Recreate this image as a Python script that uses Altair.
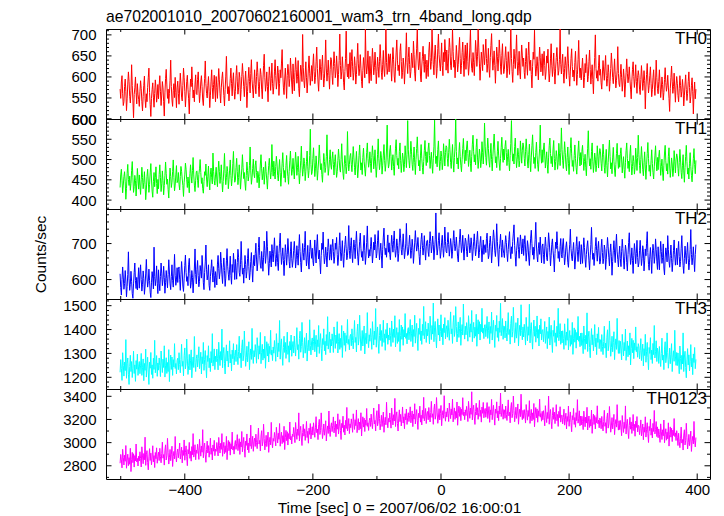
import altair as alt
import pandas as pd

FONT = "Liberation Sans"
TITLE = "ae702001010_20070602160001_wam3_trn_4band_long.qdp"
XTITLE = "Time [sec] 0 = 2007/06/02 16:00:01"
YTITLE = "Counts/sec"

# light-curve bins: start time and bin width (sec), 30 bins per row below
T_START, T_BIN = -501, 1

TH0 = [
571, 549, 588, 603, 560, 532, 541, 577, 595, 566, 520, 548, 583, 612, 590, 554, 538, 567, 629, 580, 545, 503, 558, 574, 600, 563, 536, 584, 559, 547,
530, 566, 591, 572, 541, 519, 553, 580, 602, 548, 527, 560, 541, 575, 598, 621, 563, 534, 506, 549, 570, 586, 552, 528, 561, 593, 574, 540, 555, 582,
548, 579, 603, 566, 532, 557, 589, 574, 541, 507, 562, 596, 618, 581, 549, 571, 537, 560, 592, 640, 577, 545, 530, 568, 584, 551, 599, 563, 527, 574,
590, 561, 535, 576, 609, 583, 552, 543, 580, 621, 598, 566, 529, 557, 589, 604, 571, 548, 512, 563, 595, 577, 624, 586, 550, 569, 541, 583, 605, 560,
558, 594, 612, 571, 539, 560, 588, 603, 577, 545, 532, 569, 596, 638, 584, 561, 550, 579, 601, 566, 527, 555, 590, 617, 575, 548, 582, 604, 569, 541,
601, 575, 549, 586, 620, 593, 561, 538, 574, 597, 612, 583, 556, 531, 570, 602, 649, 588, 560, 577, 543, 569, 596, 621, 584, 555, 590, 610, 572, 547,
566, 603, 627, 590, 559, 574, 611, 598, 543, 570, 601, 632, 606, 577, 553, 590, 614, 580, 527, 565, 596, 623, 589, 562, 608, 641, 594, 571, 550, 585,
617, 582, 560, 601, 636, 610, 578, 553, 589, 620, 606, 571, 548, 593, 627, 654, 598, 566, 583, 612, 577, 541, 590, 624, 603, 568, 596, 633, 585, 559,
578, 612, 641, 603, 571, 590, 626, 611, 556, 584, 617, 598, 633, 665, 607, 574, 558, 595, 621, 588, 549, 603, 630, 612, 577, 596, 645, 616, 583, 560,
631, 594, 567, 610, 646, 618, 585, 601, 639, 572, 553, 600, 628, 614, 589, 701, 623, 591, 574, 607, 636, 598, 562, 588, 621, 650, 609, 580, 603, 627,
590, 628, 655, 613, 584, 599, 636, 671, 620, 588, 566, 607, 642, 617, 593, 625, 652, 608, 576, 597, 633, 688, 619, 590, 611, 640, 603, 571, 618, 646,
641, 603, 582, 625, 660, 632, 598, 614, 650, 621, 577, 606, 639, 702, 627, 595, 612, 648, 620, 586, 569, 613, 644, 709, 622, 600, 631, 596, 626, 658,
600, 637, 665, 624, 592, 611, 648, 627, 583, 606, 642, 680, 631, 603, 619, 653, 621, 589, 574, 615, 646, 628, 598, 714, 633, 607, 626, 662, 614, 585,
649, 612, 591, 631, 668, 640, 605, 622, 659, 628, 584, 613, 647, 625, 599, 636, 677, 643, 610, 594, 630, 663, 619, 601, 640, 714, 634, 606, 621, 655,
612, 648, 655, 621, 590, 633, 670, 641, 602, 587, 624, 659, 688, 640, 615, 628, 603, 661, 679, 637, 596, 611, 645, 626, 583, 619, 652, 705, 634, 608,
646, 671, 629, 598, 613, 657, 640, 622, 685, 653, 609, 590, 638, 667, 714, 645, 617, 631, 659, 602, 588, 626, 648, 673, 637, 611, 654, 629, 596, 640,
622, 601, 659, 683, 646, 618, 637, 714, 664, 629, 605, 650, 676, 641, 597, 620, 668, 702, 653, 631, 614, 645, 681, 627, 603, 658, 636, 689, 660, 616,
664, 633, 609, 655, 692, 670, 628, 617, 649, 714, 661, 623, 640, 598, 636, 675, 650, 612, 630, 666, 694, 644, 607, 627, 658, 683, 639, 601, 647, 676,
618, 652, 681, 637, 604, 626, 669, 712, 647, 620, 611, 658, 635, 603, 642, 687, 661, 625, 648, 714, 671, 633, 592, 624, 659, 640, 615, 677, 652, 629,
657, 690, 644, 611, 632, 668, 621, 599, 646, 675, 703, 650, 616, 638, 662, 627, 585, 630, 671, 649, 614, 643, 688, 656, 624, 606, 651, 679, 633, 608,
618, 647, 672, 639, 598, 621, 660, 633, 606, 652, 714, 644, 613, 587, 629, 666, 641, 620, 655, 700, 637, 604, 628, 661, 612, 595, 643, 676, 650, 625,
645, 611, 596, 637, 668, 629, 604, 651, 683, 638, 615, 640, 606, 574, 625, 659, 642, 711, 631, 602, 619, 648, 624, 593, 636, 671, 647, 612, 628, 655,
603, 638, 661, 627, 594, 612, 650, 633, 666, 619, 588, 609, 643, 679, 628, 601, 625, 657, 612, 583, 621, 646, 670, 636, 604, 615, 642, 714, 630, 607,
632, 654, 611, 585, 620, 648, 627, 596, 638, 672, 631, 603, 578, 614, 644, 667, 625, 600, 616, 590, 634, 661, 618, 580, 606, 641, 687, 626, 598, 621,
593, 619, 645, 612, 574, 599, 632, 610, 653, 625, 588, 601, 637, 664, 618, 583, 607, 629, 594, 560, 612, 646, 700, 620, 597, 615, 590, 628, 652, 604,
618, 586, 571, 607, 639, 614, 592, 624, 651, 603, 578, 596, 629, 610, 566, 589, 620, 657, 631, 599, 584, 612, 643, 605, 574, 592, 615, 672, 608, 583,
577, 605, 630, 598, 566, 588, 619, 597, 552, 581, 611, 643, 609, 586, 600, 624, 595, 571, 548, 590, 618, 636, 601, 575, 596, 629, 589, 561, 598, 615,
603, 571, 558, 594, 627, 600, 568, 585, 615, 592, 524, 576, 606, 632, 590, 562, 579, 603, 624, 585, 553, 570, 598, 617, 581, 556, 588, 640, 599, 572,
560, 589, 617, 583, 551, 571, 600, 582, 545, 563, 594, 622, 587, 566, 579, 604, 576, 549, 518, 572, 598, 626, 590, 561, 577, 609, 571, 540, 579, 601,
585, 556, 541, 572, 603, 580, 552, 566, 594, 574, 531, 555, 583, 605, 570, 544, 561, 589, 612, 575, 538, 553, 579, 598, 566, 512, 560, 588, 548, 571,
]

TH1 = [
431, 462, 476, 449, 418, 437, 458, 470, 445, 402, 429, 466, 488, 451, 436, 459, 424, 441, 473, 495, 455, 419, 433, 461, 448, 410, 440, 478, 452, 427,
462, 437, 414, 450, 481, 456, 428, 443, 470, 439, 401, 425, 458, 476, 447, 419, 438, 467, 490, 452, 422, 407, 446, 468, 433, 455, 482, 441, 416, 451,
428, 463, 487, 455, 421, 440, 472, 448, 413, 436, 460, 494, 466, 439, 452, 426, 405, 447, 479, 458, 431, 444, 470, 499, 456, 423, 437, 462, 485, 443,
447, 468, 439, 425, 458, 483, 471, 452, 436, 409, 444, 462, 491, 476, 450, 431, 457, 440, 418, 465, 487, 459, 442, 473, 505, 462, 437, 421, 449, 470,
472, 449, 431, 463, 477, 500, 468, 441, 455, 428, 417, 446, 470, 461, 489, 452, 433, 459, 484, 447, 425, 464, 479, 455, 440, 516, 471, 448, 437, 462,
481, 452, 433, 469, 496, 471, 441, 459, 487, 448, 420, 446, 476, 515, 465, 438, 455, 483, 470, 428, 450, 474, 499, 461, 435, 453, 490, 520, 467, 444,
449, 480, 503, 470, 438, 456, 487, 462, 427, 452, 477, 512, 480, 453, 468, 442, 424, 461, 494, 473, 447, 459, 486, 531, 472, 439, 455, 478, 501, 464,
455, 486, 497, 468, 443, 471, 462, 430, 458, 489, 512, 477, 450, 466, 481, 439, 462, 495, 470, 449, 427, 460, 485, 503, 474, 452, 468, 537, 481, 459,
496, 470, 452, 483, 508, 489, 461, 447, 476, 500, 468, 434, 462, 491, 517, 480, 455, 473, 444, 486, 510, 477, 458, 439, 470, 497, 521, 484, 461, 475,
503, 474, 452, 489, 518, 494, 461, 480, 508, 468, 440, 466, 497, 533, 486, 459, 476, 504, 490, 448, 470, 495, 521, 482, 455, 473, 510, 575, 488, 463,
470, 503, 529, 492, 458, 477, 509, 484, 449, 473, 499, 536, 502, 475, 490, 463, 444, 482, 515, 495, 468, 480, 507, 561, 494, 461, 477, 500, 524, 486,
476, 503, 519, 488, 462, 495, 512, 481, 456, 470, 498, 526, 503, 477, 469, 500, 539, 494, 466, 451, 487, 510, 490, 465, 483, 569, 499, 472, 488, 509,
515, 488, 470, 501, 532, 506, 480, 462, 494, 520, 487, 455, 479, 510, 536, 499, 474, 492, 463, 505, 528, 496, 477, 459, 489, 517, 541, 503, 481, 494,
519, 490, 468, 505, 534, 510, 477, 496, 524, 484, 456, 482, 513, 551, 502, 475, 492, 520, 506, 464, 486, 511, 537, 498, 471, 489, 526, 585, 504, 479,
488, 521, 535, 507, 474, 496, 512, 483, 461, 499, 528, 549, 510, 486, 503, 477, 520, 541, 497, 468, 491, 516, 502, 470, 487, 534, 509, 480, 513, 596,
524, 497, 479, 512, 545, 519, 488, 473, 505, 531, 492, 463, 500, 527, 556, 515, 484, 498, 472, 511, 537, 503, 481, 464, 495, 522, 547, 508, 485, 519,
493, 526, 541, 510, 478, 501, 518, 487, 466, 503, 533, 597, 514, 490, 508, 482, 525, 546, 501, 473, 495, 521, 507, 475, 492, 539, 513, 484, 517, 534,
530, 502, 483, 518, 550, 524, 493, 478, 511, 537, 497, 469, 505, 533, 600, 520, 489, 504, 477, 516, 542, 508, 486, 470, 500, 527, 552, 513, 490, 523,
497, 531, 546, 515, 483, 505, 523, 491, 470, 508, 538, 560, 519, 494, 512, 487, 530, 551, 506, 478, 499, 526, 511, 480, 496, 544, 518, 489, 521, 590,
533, 505, 486, 521, 553, 527, 496, 481, 514, 540, 500, 472, 508, 536, 563, 523, 492, 507, 480, 519, 545, 511, 489, 473, 503, 530, 555, 516, 493, 526,
499, 532, 547, 517, 485, 507, 525, 493, 472, 510, 540, 596, 521, 496, 514, 489, 532, 553, 508, 480, 501, 528, 513, 482, 498, 546, 520, 491, 523, 541,
531, 503, 484, 519, 551, 525, 494, 479, 512, 538, 498, 470, 506, 534, 561, 521, 490, 505, 478, 517, 543, 509, 487, 471, 501, 528, 585, 514, 491, 524,
493, 526, 541, 511, 479, 501, 519, 487, 466, 504, 534, 553, 515, 490, 508, 482, 526, 547, 502, 474, 495, 522, 507, 476, 492, 540, 514, 485, 517, 578,
525, 497, 478, 512, 544, 518, 487, 472, 505, 531, 491, 463, 499, 527, 554, 514, 483, 498, 471, 510, 536, 502, 480, 464, 494, 521, 546, 507, 484, 517,
487, 520, 535, 505, 473, 495, 513, 481, 460, 498, 528, 571, 509, 484, 502, 476, 520, 541, 496, 468, 489, 516, 501, 470, 486, 534, 508, 479, 511, 527,
519, 491, 472, 506, 538, 512, 481, 466, 499, 525, 485, 457, 493, 521, 548, 508, 477, 492, 465, 504, 530, 496, 474, 458, 488, 515, 540, 501, 478, 511,
481, 514, 529, 499, 467, 489, 507, 475, 454, 492, 522, 541, 503, 478, 496, 470, 514, 535, 490, 462, 483, 510, 495, 464, 480, 528, 502, 473, 505, 560,
513, 485, 466, 500, 532, 506, 475, 460, 493, 519, 479, 451, 487, 515, 542, 502, 471, 486, 459, 498, 524, 490, 468, 452, 482, 509, 534, 495, 472, 505,
475, 508, 523, 493, 461, 483, 501, 469, 448, 486, 516, 535, 497, 472, 490, 464, 508, 529, 484, 456, 477, 504, 489, 458, 474, 522, 496, 467, 499, 514,
506, 478, 459, 493, 525, 499, 468, 453, 486, 512, 472, 444, 480, 508, 535, 495, 464, 479, 452, 491, 517, 483, 461, 445, 475, 502, 527, 488, 465, 498,
]

TH2 = [
616, 578, 557, 600, 635, 607, 573, 589, 625, 596, 552, 581, 614, 677, 602, 570, 587, 623, 595, 561, 548, 588, 619, 646, 597, 575, 606, 571, 601, 633,
576, 613, 641, 600, 568, 587, 624, 603, 559, 582, 618, 656, 607, 579, 595, 629, 597, 565, 550, 591, 622, 604, 574, 690, 609, 583, 602, 638, 590, 561,
627, 590, 569, 609, 646, 618, 583, 600, 637, 606, 562, 591, 625, 603, 577, 614, 655, 621, 588, 572, 608, 641, 597, 579, 618, 670, 612, 584, 599, 633,
592, 628, 635, 601, 570, 613, 650, 621, 582, 567, 604, 639, 668, 620, 595, 608, 583, 641, 659, 617, 576, 591, 625, 606, 563, 599, 632, 685, 614, 588,
628, 653, 611, 580, 595, 639, 622, 604, 667, 635, 591, 572, 620, 649, 696, 627, 599, 613, 641, 584, 570, 608, 630, 655, 619, 593, 636, 611, 578, 622,
606, 585, 643, 667, 630, 602, 621, 676, 648, 613, 589, 634, 660, 625, 581, 604, 652, 686, 637, 615, 598, 629, 665, 611, 587, 642, 620, 673, 644, 600,
656, 625, 601, 647, 684, 662, 620, 609, 641, 706, 653, 615, 632, 590, 628, 667, 642, 604, 622, 658, 686, 636, 599, 619, 650, 675, 631, 593, 639, 668,
638, 672, 701, 657, 624, 646, 689, 718, 667, 640, 631, 678, 655, 623, 662, 707, 681, 645, 668, 734, 691, 653, 612, 644, 679, 660, 635, 697, 672, 649,
683, 716, 670, 637, 658, 694, 647, 625, 672, 701, 729, 676, 642, 664, 688, 653, 611, 656, 697, 675, 640, 669, 714, 682, 650, 632, 677, 705, 659, 634,
652, 681, 706, 673, 632, 655, 694, 667, 640, 686, 725, 678, 647, 621, 663, 700, 675, 654, 689, 734, 671, 638, 662, 695, 646, 629, 677, 710, 684, 659,
687, 653, 638, 679, 710, 671, 646, 693, 725, 680, 657, 682, 648, 616, 667, 701, 684, 732, 673, 644, 661, 690, 666, 635, 678, 713, 689, 654, 670, 697,
654, 689, 712, 678, 645, 663, 701, 684, 717, 670, 639, 660, 694, 730, 679, 652, 676, 708, 663, 634, 672, 697, 721, 687, 655, 666, 693, 750, 681, 658,
694, 716, 673, 647, 682, 710, 689, 658, 700, 734, 693, 665, 640, 676, 706, 729, 687, 662, 678, 652, 696, 723, 680, 642, 668, 703, 749, 688, 660, 683,
665, 691, 717, 684, 646, 671, 704, 682, 725, 697, 660, 673, 709, 736, 690, 655, 679, 701, 666, 632, 684, 718, 743, 692, 669, 687, 662, 700, 724, 676,
702, 670, 655, 691, 723, 698, 676, 708, 735, 687, 662, 680, 713, 694, 650, 673, 704, 741, 715, 683, 668, 696, 727, 689, 658, 676, 699, 756, 692, 667,
670, 698, 723, 691, 659, 681, 712, 690, 645, 674, 704, 736, 702, 679, 693, 717, 688, 664, 641, 683, 711, 729, 694, 668, 689, 722, 682, 654, 691, 708,
709, 677, 664, 700, 733, 706, 674, 691, 721, 698, 655, 682, 712, 785, 696, 668, 685, 709, 730, 691, 659, 676, 704, 723, 687, 662, 694, 746, 705, 678,
674, 703, 731, 697, 665, 685, 714, 696, 659, 677, 708, 736, 701, 680, 693, 718, 690, 663, 649, 686, 712, 740, 704, 675, 691, 723, 685, 654, 693, 715,
707, 678, 663, 694, 725, 702, 674, 688, 716, 696, 653, 677, 705, 727, 692, 666, 683, 711, 734, 697, 660, 675, 701, 720, 688, 649, 682, 710, 670, 693,
697, 675, 714, 729, 686, 658, 667, 703, 721, 692, 646, 674, 709, 738, 716, 680, 664, 693, 755, 706, 671, 637, 684, 700, 726, 689, 662, 710, 685, 673,
661, 697, 722, 703, 672, 650, 684, 711, 733, 679, 658, 691, 672, 706, 729, 752, 694, 665, 637, 680, 701, 717, 683, 659, 692, 724, 705, 671, 686, 713,
667, 698, 722, 685, 651, 676, 708, 693, 660, 639, 681, 715, 737, 700, 668, 690, 656, 679, 711, 759, 696, 664, 649, 687, 703, 670, 718, 682, 646, 693,
699, 670, 644, 685, 718, 692, 661, 652, 689, 730, 707, 675, 638, 666, 698, 713, 680, 657, 621, 672, 704, 686, 733, 695, 659, 678, 650, 692, 714, 669,
660, 696, 714, 673, 641, 662, 690, 705, 679, 647, 634, 671, 698, 740, 686, 663, 652, 681, 703, 668, 629, 657, 692, 719, 677, 650, 684, 706, 671, 643,
697, 671, 645, 682, 716, 689, 657, 634, 670, 693, 708, 679, 652, 627, 666, 698, 745, 684, 656, 673, 639, 665, 692, 717, 680, 651, 686, 706, 668, 643,
651, 688, 712, 675, 644, 659, 696, 683, 628, 655, 686, 717, 691, 662, 638, 675, 699, 665, 612, 650, 681, 708, 674, 647, 693, 726, 679, 656, 635, 670,
693, 658, 636, 677, 712, 686, 654, 629, 665, 696, 682, 647, 624, 669, 703, 730, 674, 642, 659, 688, 653, 617, 666, 700, 679, 644, 672, 709, 661, 635,
646, 680, 709, 671, 639, 658, 694, 679, 624, 652, 685, 666, 701, 733, 675, 642, 626, 663, 689, 656, 617, 671, 698, 680, 645, 664, 713, 684, 651, 628,
691, 654, 627, 670, 706, 678, 645, 661, 699, 632, 613, 660, 688, 674, 649, 722, 683, 651, 634, 667, 696, 658, 622, 648, 681, 710, 669, 640, 663, 687,
641, 679, 706, 664, 635, 650, 687, 722, 671, 639, 617, 658, 693, 668, 644, 676, 703, 659, 627, 648, 684, 739, 670, 641, 662, 691, 654, 622, 669, 697,
]

TH3 = [
1221, 1274, 1236, 1187, 1303, 1250, 1205, 1264, 1228, 1358, 1196, 1257, 1281, 1213, 1170, 1245, 1292, 1224, 1266, 1199, 1238, 1309, 1216, 1252, 1183, 1270, 1234, 1297, 1208, 1247,
1266, 1215, 1251, 1300, 1208, 1240, 1277, 1186, 1258, 1229, 1318, 1201, 1247, 1284, 1222, 1170, 1263, 1238, 1304, 1212, 1252, 1196, 1280, 1233, 1355, 1219, 1245, 1291, 1204, 1260,
1230, 1281, 1249, 1203, 1310, 1264, 1220, 1276, 1241, 1332, 1201, 1248, 1282, 1216, 1262, 1224, 1316, 1182, 1250, 1293, 1233, 1285, 1208, 1274, 1243, 1341, 1237, 1258, 1214, 1271,
1280, 1232, 1303, 1254, 1219, 1274, 1338, 1246, 1267, 1206, 1292, 1323, 1235, 1259, 1360, 1277, 1212, 1248, 1296, 1231, 1269, 1315, 1198, 1256, 1285, 1241, 1371, 1263, 1224, 1278,
1294, 1243, 1279, 1328, 1236, 1268, 1305, 1214, 1286, 1257, 1346, 1229, 1275, 1312, 1250, 1198, 1291, 1266, 1332, 1240, 1280, 1224, 1308, 1261, 1383, 1247, 1273, 1319, 1232, 1288,
1265, 1318, 1280, 1231, 1347, 1294, 1249, 1308, 1272, 1402, 1240, 1301, 1325, 1257, 1214, 1289, 1336, 1268, 1310, 1243, 1282, 1353, 1260, 1296, 1227, 1314, 1278, 1341, 1252, 1291,
1314, 1266, 1337, 1288, 1253, 1308, 1372, 1280, 1301, 1240, 1326, 1357, 1269, 1293, 1394, 1311, 1246, 1282, 1330, 1265, 1303, 1349, 1232, 1290, 1319, 1275, 1405, 1297, 1258, 1312,
1286, 1337, 1305, 1259, 1366, 1320, 1276, 1332, 1297, 1388, 1257, 1304, 1338, 1272, 1318, 1280, 1372, 1238, 1306, 1349, 1289, 1341, 1264, 1330, 1299, 1397, 1293, 1314, 1270, 1327,
1301, 1354, 1316, 1267, 1383, 1330, 1285, 1344, 1308, 1438, 1276, 1337, 1361, 1293, 1250, 1325, 1372, 1304, 1346, 1279, 1318, 1389, 1296, 1332, 1263, 1350, 1314, 1377, 1288, 1327,
1350, 1302, 1373, 1324, 1289, 1344, 1408, 1316, 1337, 1276, 1362, 1393, 1305, 1329, 1430, 1347, 1282, 1318, 1366, 1301, 1339, 1385, 1268, 1326, 1355, 1311, 1441, 1333, 1294, 1348,
1365, 1314, 1350, 1399, 1307, 1339, 1376, 1285, 1357, 1328, 1417, 1300, 1346, 1383, 1321, 1269, 1362, 1337, 1403, 1311, 1351, 1295, 1379, 1332, 1454, 1318, 1344, 1390, 1303, 1359,
1331, 1382, 1350, 1304, 1411, 1365, 1321, 1377, 1342, 1433, 1302, 1349, 1383, 1317, 1363, 1325, 1417, 1283, 1351, 1394, 1334, 1386, 1309, 1375, 1344, 1442, 1338, 1359, 1315, 1372,
1380, 1332, 1403, 1354, 1319, 1374, 1438, 1346, 1367, 1306, 1392, 1423, 1335, 1359, 1460, 1377, 1312, 1348, 1396, 1331, 1369, 1415, 1298, 1356, 1385, 1341, 1471, 1363, 1324, 1378,
1351, 1404, 1366, 1317, 1433, 1380, 1335, 1394, 1358, 1488, 1326, 1387, 1411, 1343, 1300, 1375, 1422, 1354, 1396, 1329, 1368, 1439, 1346, 1382, 1313, 1400, 1364, 1427, 1338, 1377,
1356, 1407, 1375, 1329, 1436, 1390, 1346, 1402, 1367, 1458, 1327, 1374, 1408, 1342, 1388, 1350, 1442, 1308, 1376, 1419, 1359, 1411, 1334, 1400, 1369, 1467, 1363, 1384, 1340, 1397,
1408, 1357, 1393, 1442, 1350, 1382, 1419, 1328, 1400, 1371, 1460, 1343, 1389, 1426, 1364, 1312, 1405, 1380, 1446, 1354, 1394, 1338, 1422, 1375, 1497, 1361, 1387, 1433, 1346, 1402,
1374, 1427, 1389, 1340, 1456, 1403, 1358, 1417, 1381, 1511, 1349, 1410, 1434, 1366, 1323, 1398, 1445, 1377, 1419, 1352, 1391, 1462, 1369, 1405, 1336, 1423, 1387, 1450, 1361, 1400,
1416, 1368, 1439, 1390, 1355, 1410, 1474, 1382, 1403, 1342, 1428, 1459, 1371, 1395, 1496, 1413, 1348, 1384, 1432, 1367, 1405, 1451, 1334, 1392, 1421, 1377, 1507, 1399, 1360, 1414,
1378, 1429, 1397, 1351, 1458, 1412, 1368, 1424, 1389, 1480, 1349, 1396, 1430, 1364, 1410, 1372, 1464, 1330, 1398, 1441, 1381, 1433, 1356, 1422, 1391, 1489, 1385, 1406, 1362, 1419,
1421, 1370, 1406, 1455, 1363, 1395, 1432, 1341, 1413, 1384, 1473, 1356, 1402, 1439, 1377, 1325, 1418, 1393, 1459, 1367, 1407, 1351, 1435, 1388, 1510, 1374, 1400, 1446, 1359, 1415,
1413, 1365, 1436, 1387, 1352, 1407, 1471, 1379, 1400, 1339, 1425, 1456, 1368, 1392, 1493, 1410, 1345, 1381, 1429, 1364, 1402, 1448, 1331, 1389, 1418, 1374, 1504, 1396, 1357, 1411,
1369, 1422, 1384, 1335, 1451, 1398, 1353, 1412, 1376, 1506, 1344, 1405, 1429, 1361, 1318, 1393, 1440, 1372, 1414, 1347, 1386, 1457, 1364, 1400, 1331, 1418, 1382, 1445, 1356, 1395,
1400, 1349, 1385, 1434, 1342, 1374, 1411, 1320, 1392, 1363, 1452, 1335, 1381, 1418, 1356, 1304, 1397, 1372, 1438, 1346, 1386, 1330, 1414, 1367, 1489, 1353, 1379, 1425, 1338, 1394,
1344, 1395, 1363, 1317, 1424, 1378, 1334, 1390, 1355, 1446, 1315, 1362, 1396, 1330, 1376, 1338, 1430, 1296, 1364, 1407, 1347, 1399, 1322, 1388, 1357, 1455, 1351, 1372, 1328, 1385,
1333, 1386, 1348, 1299, 1415, 1362, 1317, 1376, 1340, 1470, 1308, 1369, 1393, 1325, 1282, 1357, 1404, 1336, 1378, 1311, 1350, 1421, 1328, 1364, 1295, 1382, 1346, 1409, 1320, 1359,
1356, 1308, 1379, 1330, 1295, 1350, 1414, 1322, 1343, 1282, 1368, 1399, 1311, 1335, 1436, 1353, 1288, 1324, 1372, 1307, 1345, 1391, 1274, 1332, 1361, 1317, 1447, 1339, 1300, 1354,
1300, 1351, 1319, 1273, 1380, 1334, 1290, 1346, 1311, 1402, 1271, 1318, 1352, 1286, 1332, 1294, 1386, 1252, 1320, 1363, 1303, 1355, 1278, 1344, 1313, 1411, 1307, 1328, 1284, 1341,
1328, 1277, 1313, 1362, 1270, 1302, 1339, 1248, 1320, 1291, 1380, 1263, 1309, 1346, 1284, 1232, 1325, 1300, 1366, 1274, 1314, 1258, 1342, 1295, 1417, 1281, 1307, 1353, 1266, 1322,
1306, 1258, 1329, 1280, 1245, 1300, 1364, 1272, 1293, 1232, 1318, 1349, 1261, 1285, 1386, 1303, 1238, 1274, 1322, 1257, 1295, 1341, 1224, 1282, 1311, 1267, 1397, 1289, 1250, 1304,
1249, 1302, 1264, 1215, 1331, 1278, 1233, 1292, 1256, 1386, 1224, 1285, 1309, 1241, 1198, 1273, 1320, 1252, 1294, 1227, 1266, 1337, 1244, 1280, 1211, 1298, 1262, 1325, 1236, 1275,
]

TH0123 = [
2822, 2898, 2851, 2782, 2942, 2873, 2807, 2891, 2839, 2975, 2779, 2849, 2900, 2801, 2870, 2813, 2951, 2750, 2852, 2916, 2827, 2904, 2789, 2888, 2842, 2988, 2833, 2864, 2798, 2883,
2842, 2921, 2864, 2790, 2964, 2885, 2818, 2906, 2852, 3047, 2804, 2895, 2931, 2830, 2765, 2877, 2948, 2846, 2909, 2809, 2867, 2973, 2834, 2888, 2785, 2915, 2861, 2955, 2822, 2880,
2917, 2845, 2951, 2878, 2826, 2908, 3004, 2866, 2897, 2806, 2935, 2981, 2850, 2886, 3037, 2912, 2815, 2869, 2941, 2844, 2900, 2969, 2794, 2881, 2924, 2859, 3053, 2891, 2833, 2914,
2945, 2869, 2922, 2996, 2858, 2906, 2961, 2825, 2933, 2890, 3023, 2848, 2916, 2972, 2879, 2801, 2940, 2903, 3002, 2864, 2924, 2840, 2966, 2896, 3078, 2875, 2913, 2982, 2852, 2936,
2907, 2986, 2929, 2855, 3029, 2950, 2883, 2971, 2917, 3112, 2869, 2960, 2996, 2895, 2830, 2942, 3013, 2911, 2974, 2874, 2932, 3038, 2899, 2953, 2850, 2980, 2926, 3020, 2887, 2945,
2925, 3001, 2954, 2885, 3045, 2976, 2910, 2994, 2942, 3078, 2882, 2952, 3003, 2904, 2973, 2916, 3054, 2853, 2955, 3019, 2930, 3007, 2892, 2991, 2945, 3091, 2936, 2967, 2901, 2986,
3018, 2942, 2995, 3069, 2931, 2979, 3034, 2898, 3006, 2963, 3096, 2921, 2989, 3045, 2952, 2874, 3013, 2976, 3075, 2937, 2997, 2913, 3039, 2969, 3151, 2948, 2986, 3055, 2925, 3009,
3039, 2967, 3073, 3000, 2948, 3030, 3126, 2988, 3019, 2928, 3057, 3103, 2972, 3008, 3159, 3034, 2937, 2991, 3063, 2966, 3022, 3091, 2916, 3003, 3046, 2981, 3175, 3013, 2955, 3036,
3012, 3088, 3041, 2972, 3132, 3063, 2997, 3081, 3029, 3165, 2969, 3039, 3090, 2991, 3060, 3003, 3141, 2940, 3042, 3106, 3017, 3094, 2979, 3078, 3032, 3178, 3023, 3054, 2988, 3073,
3052, 3131, 3074, 3000, 3174, 3095, 3028, 3116, 3062, 3257, 3014, 3105, 3141, 3040, 2975, 3087, 3158, 3056, 3119, 3019, 3077, 3183, 3044, 3098, 2995, 3125, 3071, 3165, 3032, 3090,
3137, 3065, 3171, 3098, 3046, 3128, 3224, 3086, 3117, 3026, 3155, 3201, 3070, 3106, 3257, 3132, 3035, 3089, 3161, 3064, 3120, 3189, 3014, 3101, 3144, 3079, 3273, 3111, 3053, 3134,
3171, 3095, 3148, 3222, 3084, 3132, 3187, 3051, 3159, 3116, 3249, 3074, 3142, 3198, 3105, 3027, 3166, 3129, 3228, 3090, 3150, 3066, 3192, 3122, 3304, 3101, 3139, 3208, 3078, 3162,
3129, 3205, 3158, 3089, 3249, 3180, 3114, 3198, 3146, 3282, 3086, 3156, 3207, 3108, 3177, 3120, 3258, 3057, 3159, 3223, 3134, 3211, 3096, 3195, 3149, 3295, 3140, 3171, 3105, 3190,
3212, 3140, 3246, 3173, 3121, 3203, 3299, 3161, 3192, 3101, 3230, 3276, 3145, 3181, 3332, 3207, 3110, 3164, 3236, 3139, 3195, 3264, 3089, 3176, 3219, 3154, 3348, 3186, 3128, 3209,
3177, 3256, 3199, 3125, 3299, 3220, 3153, 3241, 3187, 3382, 3139, 3230, 3266, 3165, 3100, 3212, 3283, 3181, 3244, 3144, 3202, 3308, 3169, 3223, 3120, 3250, 3196, 3290, 3157, 3215,
3258, 3182, 3235, 3309, 3171, 3219, 3274, 3138, 3246, 3203, 3336, 3161, 3229, 3285, 3192, 3114, 3253, 3216, 3315, 3177, 3237, 3153, 3279, 3209, 3391, 3188, 3226, 3295, 3165, 3249,
3269, 3197, 3303, 3230, 3178, 3260, 3356, 3218, 3249, 3158, 3287, 3333, 3202, 3238, 3389, 3264, 3167, 3221, 3293, 3196, 3252, 3321, 3146, 3233, 3276, 3211, 3405, 3243, 3185, 3266,
3222, 3298, 3251, 3182, 3342, 3273, 3207, 3291, 3239, 3375, 3179, 3249, 3300, 3201, 3270, 3213, 3351, 3150, 3252, 3316, 3227, 3304, 3189, 3288, 3242, 3388, 3233, 3264, 3198, 3283,
3234, 3313, 3256, 3182, 3356, 3277, 3210, 3298, 3244, 3439, 3196, 3287, 3323, 3222, 3157, 3269, 3340, 3238, 3301, 3201, 3259, 3365, 3226, 3280, 3177, 3307, 3253, 3347, 3214, 3272,
3295, 3219, 3272, 3346, 3208, 3256, 3311, 3175, 3283, 3240, 3373, 3198, 3266, 3322, 3229, 3151, 3290, 3253, 3352, 3214, 3274, 3190, 3316, 3246, 3428, 3225, 3263, 3332, 3202, 3286,
3282, 3210, 3316, 3243, 3191, 3273, 3369, 3231, 3262, 3171, 3300, 3346, 3215, 3251, 3402, 3277, 3180, 3234, 3306, 3209, 3265, 3334, 3159, 3246, 3289, 3224, 3418, 3256, 3198, 3279,
3209, 3285, 3238, 3169, 3329, 3260, 3194, 3278, 3226, 3362, 3166, 3236, 3287, 3188, 3257, 3200, 3338, 3137, 3239, 3303, 3214, 3291, 3176, 3275, 3229, 3375, 3220, 3251, 3185, 3270,
3197, 3276, 3219, 3145, 3319, 3240, 3173, 3261, 3207, 3402, 3159, 3250, 3286, 3185, 3120, 3232, 3303, 3201, 3264, 3164, 3222, 3328, 3189, 3243, 3140, 3270, 3216, 3310, 3177, 3235,
3238, 3162, 3215, 3289, 3151, 3199, 3254, 3118, 3226, 3183, 3316, 3141, 3209, 3265, 3172, 3094, 3233, 3196, 3295, 3157, 3217, 3133, 3259, 3189, 3371, 3168, 3206, 3275, 3145, 3229,
3152, 3228, 3181, 3112, 3272, 3203, 3137, 3221, 3169, 3305, 3109, 3179, 3230, 3131, 3200, 3143, 3281, 3080, 3182, 3246, 3157, 3234, 3119, 3218, 3172, 3318, 3163, 3194, 3128, 3213,
3192, 3120, 3226, 3153, 3101, 3183, 3279, 3141, 3172, 3081, 3210, 3256, 3125, 3161, 3312, 3187, 3090, 3144, 3216, 3119, 3175, 3244, 3069, 3156, 3199, 3134, 3328, 3166, 3108, 3189,
3112, 3191, 3134, 3060, 3234, 3155, 3088, 3176, 3122, 3317, 3074, 3165, 3201, 3100, 3035, 3147, 3218, 3116, 3179, 3079, 3137, 3243, 3104, 3158, 3055, 3185, 3131, 3225, 3092, 3150,
3145, 3069, 3122, 3196, 3058, 3106, 3161, 3025, 3133, 3090, 3223, 3048, 3116, 3172, 3079, 3001, 3140, 3103, 3202, 3064, 3124, 3040, 3166, 3096, 3278, 3075, 3113, 3182, 3052, 3136,
3042, 3118, 3071, 3002, 3162, 3093, 3027, 3111, 3059, 3195, 2999, 3069, 3120, 3021, 3090, 3033, 3171, 2970, 3072, 3136, 3047, 3124, 3009, 3108, 3062, 3208, 3053, 3084, 3018, 3103,
3047, 2975, 3081, 3008, 2956, 3038, 3134, 2996, 3027, 2936, 3065, 3111, 2980, 3016, 3167, 3042, 2945, 2999, 3071, 2974, 3030, 3099, 2924, 3011, 3054, 2989, 3183, 3021, 2963, 3044,
]

BANDS = ["TH0", "TH1", "TH2", "TH3", "TH0123"]
COLORS = ["#ff0000", "#00ff00", "#0000ff", "#00ffff", "#ff00ff"]
SERIES = [TH0, TH1, TH2, TH3, TH0123]
Y_DOMAINS = [[500, 714], [378, 600], [546, 796], [1151, 1528], [2686, 3463]]
Y_LABELS = [[500, 550, 600, 650, 700], [400, 450, 500, 550, 600], [600, 700],
            [1200, 1300, 1400, 1500], [2800, 3000, 3200, 3400]]
Y_MINOR_STEP = [10, 10, 20, 20, 100]
X_DOMAIN = [-523, 420]
X_LABELS = [-400, -200, 0, 200, 400]
X_MINOR = [-500, -300, -100, 100, 300]

W, H = 604, 90
MAJ, MIN = 5.5, 3


def rules_y(vals, ysc, yaxis, x1, x2):
    return alt.Chart(pd.DataFrame({"v": vals})).mark_rule(color="black", strokeWidth=1).encode(
        y=alt.Y("v:Q", scale=ysc, axis=yaxis), x=alt.value(x1), x2=alt.value(x2))


def rules_x(vals, xsc, xaxis, y1, y2):
    return alt.Chart(pd.DataFrame({"v": vals})).mark_rule(color="black", strokeWidth=1).encode(
        x=alt.X("v:Q", scale=xsc, axis=xaxis), y=alt.value(y1), y2=alt.value(y2))


panels = []
for i in range(5):
    lo, hi = Y_DOMAINS[i]
    step = Y_MINOR_STEP[i]
    minor = [v for v in range((lo // step + 1) * step, hi + 1, step) if v not in Y_LABELS[i]]
    ysc = alt.Scale(domain=Y_DOMAINS[i], nice=False, zero=False)
    xsc = alt.Scale(domain=X_DOMAIN, nice=False, zero=False)
    if i == 4:
        xaxis = alt.Axis(values=X_LABELS, format="d", title=XTITLE, ticks=False, tickSize=0,
                         domain=False, grid=False, labelPadding=3, titlePadding=3, titleX=293)
    else:
        xaxis = None
    if i == 2:
        yaxis = alt.Axis(values=Y_LABELS[i], format="d", title=YTITLE, ticks=False, tickSize=0,
                         domain=False, grid=False, labelPadding=10, titleX=-58)
    else:
        yaxis = alt.Axis(values=Y_LABELS[i], format="d", title=None, ticks=False, tickSize=0,
                         domain=False, grid=False, labelPadding=10)
    vals = SERIES[i]
    df = pd.DataFrame({"t": [T_START + T_BIN * k for k in range(len(vals))], "rate": vals})
    line = alt.Chart(df).mark_line(color=COLORS[i], strokeWidth=1, clip=True).encode(
        x=alt.X("t:Q", scale=xsc, axis=xaxis),
        y=alt.Y("rate:Q", scale=ysc, axis=yaxis),
    )
    label = alt.Chart(pd.DataFrame({"band": [BANDS[i]]})).mark_text(
        align="right", baseline="top", font=FONT, fontSize=17, color="black"
    ).encode(text="band:N", x=alt.value(W - 3), y=alt.value(2))
    layers = [
        line,
        rules_y(Y_LABELS[i], ysc, yaxis, 0, MAJ), rules_y(Y_LABELS[i], ysc, yaxis, W - MAJ, W),
        rules_y(minor, ysc, yaxis, 0, MIN), rules_y(minor, ysc, yaxis, W - MIN, W),
        rules_x(X_LABELS, xsc, xaxis, 0, MAJ), rules_x(X_LABELS, xsc, xaxis, H - MAJ, H),
        rules_x(X_MINOR, xsc, xaxis, 0, MIN), rules_x(X_MINOR, xsc, xaxis, H - MIN, H),
        label,
    ]
    p = alt.layer(*layers).properties(width=W, height=H)
    if i == 0:
        p = p.properties(title=alt.TitleParams(TITLE, anchor="start", frame="group", font=FONT,
                                               fontSize=15.7, fontWeight="normal", color="black",
                                               offset=2))
    panels.append(p)

chart = alt.vconcat(*panels, spacing=0, bounds="flush").properties(
    padding={"left": 24, "top": 0, "right": 5, "bottom": 5}
).configure_view(stroke="black", strokeWidth=1).configure_axis(
    labelFont=FONT, titleFont=FONT, labelFontSize=15, titleFontSize=15.5,
    labelColor="black", titleColor="black", titleFontWeight="normal"
)

chart.save("out.html", embed_options={"renderer": "svg", "actions": False})
